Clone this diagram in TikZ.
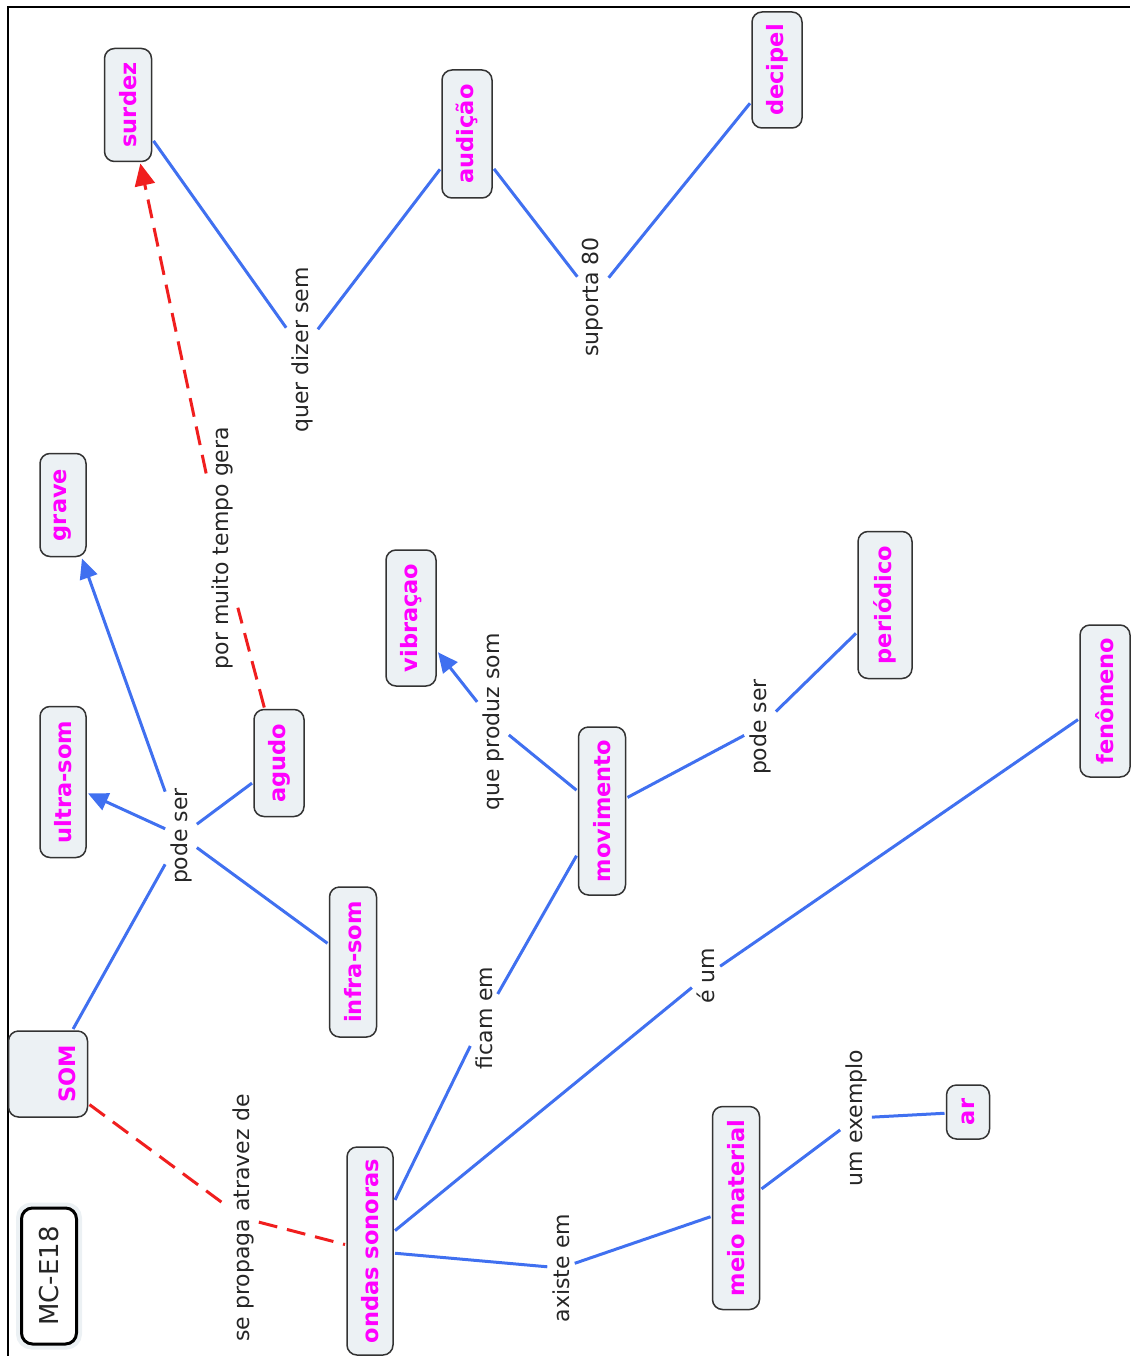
\documentclass[tikz,border=0pt]{standalone}
\usepackage{fontspec}
\setmainfont{DejaVu Sans}
\usetikzlibrary{arrows.meta}
\definecolor{lnblue}{RGB}{64,112,240}
\definecolor{lnred}{RGB}{240,30,30}
\definecolor{cmag}{RGB}{255,0,255}
\definecolor{cfill}{RGB}{236,241,244}
\begin{document}
\begin{tikzpicture}[x=1pt,y=-1pt,
 concept/.style={draw=black!80, fill=cfill, line width=1.5pt, rounded corners=10pt, rotate=90, text=cmag, font=\fontsize{22.5}{26}\selectfont\bfseries, inner sep=0pt, outer sep=2pt},
 lab/.style={rotate=90, font=\fontsize{22}{26}\selectfont, inner sep=5pt, text=black!85},
 bl/.style={draw=lnblue, line width=3pt},
 bla/.style={bl, -{Triangle[length=20pt,width=18pt]}},
 rd/.style={draw=lnred, line width=3pt, dash pattern=on 19pt off 10pt},
 rda/.style={rd, -{Triangle[length=22pt,width=20pt]}}]
\useasboundingbox (0,0) rectangle (1130,1356);
\draw[line width=2.5pt] (8,1356) -- (8,7) -- (1130,7);

% concepts
\node[concept, minimum width=113, minimum height=47] (surdez) at (128,105) {surdez};
\node[concept, minimum width=128, minimum height=50] (audicao) at (467,134) {audição};
\node[concept, minimum width=116, minimum height=50] (decipel) at (777,70) {decipel};
\node[concept, minimum width=103, minimum height=46] (grave) at (63,505) {grave};
\node[concept, minimum width=151, minimum height=46] (ultra) at (63,782) {ultra-som};
\node[concept, minimum width=107, minimum height=50] (agudo) at (279,763) {agudo};
\node[concept, minimum width=150, minimum height=47] (infra) at (353,962) {infra-som};
\node[concept, minimum width=136, minimum height=50] (vibracao) at (411,618) {vibraçao};
\node[concept, minimum width=147, minimum height=54] (periodico) at (885,605) {periódico};
\node[concept, minimum width=168, minimum height=47] (movimento) at (602,811) {movimento};
\node[concept, minimum width=152, minimum height=50] (fenomeno) at (1105,701) {fenômeno};
\node[concept, minimum width=86, minimum height=79] (som) at (48,1074) {};
\node[rotate=90, text=cmag, font=\fontsize{22.5}{26}\selectfont\bfseries, inner sep=0pt] (somtext) at (67,1074) {SOM};
\node[concept, minimum width=208, minimum height=46] (ondas) at (370,1251) {ondas sonoras};
\node[concept, minimum width=203, minimum height=47] (meio) at (736,1208) {meio material};
\node[concept, minimum width=54, minimum height=43] (ar) at (968,1112) {ar};
\node[rotate=90, draw=cfill, line width=7pt, rounded corners=12pt, minimum width=140, minimum height=59] (mcglow) at (49,1276) {};
\node[rotate=90, draw=black, fill=white, line width=3pt, rounded corners=11pt, minimum width=136, minimum height=55, font=\fontsize{26}{30}\selectfont, text=black!85] (mc) at (49,1276) {MC-E18};

% linking phrases
\node[lab] (quer) at (302,350) {quer dizer sem};
\node[lab] (suporta) at (593,297) {suporta 80};
\node[lab] (podeser) at (181,836) {pode ser};
\node[lab] (muito) at (222,548) {por muito tempo gera};
\node[lab] (produz) at (493,722) {que produz som};
\node[lab] (podeser2) at (760,727) {pode ser};
\node[lab] (ficam) at (484,1018) {ficam em};
\node[lab] (eum) at (706,976) {é um};
\node[lab] (exemplo) at (856,1118) {um exemplo};
\node[lab] (axiste) at (561,1268) {axiste em};
\node[lab] (propaga) at (243,1218) {se propaga atravez de};

% connectors
\draw[bl] (surdez) -- (quer);
\draw[bl] (quer) -- (audicao);
\draw[bl] (audicao) -- (suporta);
\draw[bl] (suporta) -- (decipel);
\draw[bl] (som) -- (podeser);
\draw[bla] (podeser) -- (ultra);
\draw[bla] (podeser) -- (grave);
\draw[bl] (podeser) -- (agudo);
\draw[bl] (podeser) -- (infra);
\draw[rd] (agudo) -- (muito);
\draw[rda] (muito) -- (surdez);
\draw[bl] (movimento) -- (produz);
\draw[bla] (produz) -- (vibracao);
\draw[bl] (movimento) -- (podeser2);
\draw[bl] (podeser2) -- (periodico);
\draw[bl] (ondas) -- (ficam);
\draw[bl] (ficam) -- (movimento);
\draw[bl] (ondas) -- (eum);
\draw[bl] (eum) -- (fenomeno);
\draw[bl] (ondas) -- (axiste);
\draw[bl] (axiste) -- (meio);
\draw[bl] (meio) -- (exemplo);
\draw[bl] (exemplo) -- (ar);
\draw[rd] (som) -- (propaga);
\draw[rd] (propaga) -- (ondas);
\end{tikzpicture}
\end{document}
